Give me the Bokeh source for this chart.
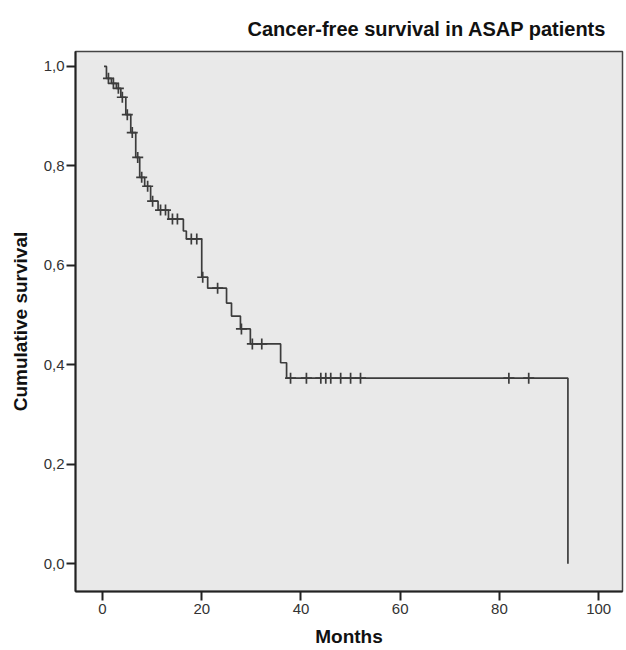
import numpy as np
from bokeh.plotting import figure
from bokeh.models import FixedTicker
from bokeh.embed import file_html
from bokeh.resources import INLINE

# Kaplan-Meier step function (time in months, cumulative survival after the drop)
step_times = [0.3, 0.8, 1.8, 2.8, 3.7, 4.7, 5.7, 6.7, 7.5, 8.5, 9.7, 11.2, 13.3,
              16.3, 16.9, 20.0, 21.2, 25.0, 26.0, 27.8, 29.8, 35.9, 37.1, 93.8]
step_surv = [1.0, 0.976, 0.966, 0.956, 0.938, 0.903, 0.867, 0.817, 0.777, 0.759,
             0.729, 0.711, 0.693, 0.669, 0.653, 0.576, 0.554, 0.524, 0.498, 0.472,
             0.442, 0.404, 0.373, 0.0]

# censored observations (months)
censor_times = [1.2, 2.2, 3.2, 4.0, 5.0, 6.0, 7.1, 7.9, 9.1, 10.1, 11.7, 12.7,
                14.1, 15.1, 17.9, 19.0, 20.2, 23.2, 28.0, 30.2, 32.1, 37.9, 41.1,
                44.0, 45.0, 46.0, 48.0, 50.0, 52.0, 81.9, 85.9]

x_ticks = [0, 20, 40, 60, 80, 100]
x_tick_labels = ["0", "20", "40", "60", "80", "100"]
y_ticks = [0.0, 0.2, 0.4, 0.6, 0.8, 1.0]
y_tick_labels = ["0,0", "0,2", "0,4", "0,6", "0,8", "1,0"]

title_text = "Cancer-free survival in ASAP patients"
x_label = "Months"
y_label = "Cumulative survival"

# survival level at each censor time, read from the step function
st = np.array(step_times)
ss = np.array(step_surv)
idx = np.searchsorted(st, np.array(censor_times), side="right") - 1
censor_surv = ss[idx]

FONT = "Liberation Sans"
CURVE = "#3c3c3c"

p = figure(width=626, height=650, output_backend="svg", toolbar_location=None,
           x_range=(-5.44, 104.8), y_range=(-0.056, 1.03),
           min_border_left=75, min_border_right=4, min_border_top=51,
           min_border_bottom=59, title=title_text)

p.background_fill_color = "#e9e9e9"
p.border_fill_color = "white"
p.outline_line_color = "#444444"
p.outline_line_width = 1.5
p.grid.visible = False

p.title.align = "right"
p.title.offset = 16
p.title.standoff = 23
p.title.text_font = FONT
p.title.text_font_size = "20px"
p.title.text_font_style = "bold"
p.title.text_color = "#111111"

p.step(step_times, step_surv, mode="after", line_color=CURVE, line_width=1.7)
p.scatter(censor_times, censor_surv, marker="cross", size=11, line_color=CURVE,
          line_width=1.7)

for ax in (p.xaxis[0], p.yaxis[0]):
    ax.axis_line_color = "#222222"
    ax.axis_line_width = 2
    ax.major_tick_line_color = "#222222"
    ax.major_tick_line_width = 2
    ax.major_tick_out = 9
    ax.major_tick_in = 0
    ax.minor_tick_line_color = None
    ax.major_label_text_font = FONT
    ax.major_label_text_font_size = "15px"
    ax.major_label_text_color = "#333333"
    ax.axis_label_text_font = FONT
    ax.axis_label_text_font_size = "19px"
    ax.axis_label_text_font_style = "bold"
    ax.axis_label_text_color = "#111111"

p.xaxis.ticker = FixedTicker(ticks=x_ticks)
p.xaxis.major_label_overrides = dict(zip(x_ticks, x_tick_labels))
p.yaxis.ticker = FixedTicker(ticks=y_ticks)
p.yaxis.major_label_overrides = dict(zip(y_ticks, y_tick_labels))
p.xaxis.axis_label = x_label
p.yaxis.axis_label = y_label
p.xaxis.major_label_standoff = 3
p.yaxis.major_label_standoff = 2
p.xaxis.axis_label_standoff = 9
p.yaxis.axis_label_standoff = 10

open("out.html", "w").write(file_html(p, INLINE))
